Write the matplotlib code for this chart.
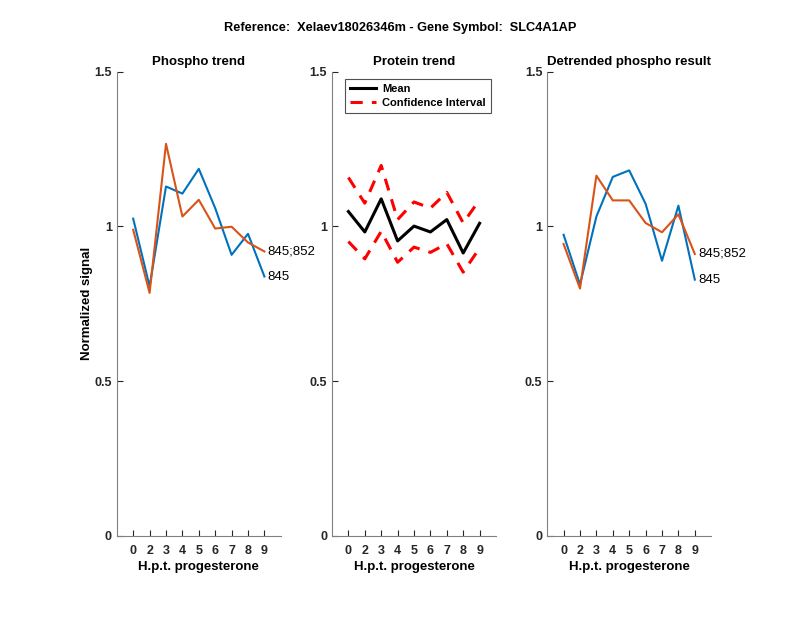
import matplotlib
matplotlib.use("Agg")
import matplotlib.pyplot as plt

# time points (hours post progesterone)
hpt = ["0", "2", "3", "4", "5", "6", "7", "8", "9"]

# phospho trend
phospho_845 = [1.025, 0.806, 1.129, 1.106, 1.186, 1.059, 0.908, 0.976, 0.838]
phospho_845_852 = [0.989, 0.785, 1.267, 1.032, 1.086, 0.993, 0.999, 0.948, 0.919]

# protein trend
protein_mean = [1.048, 0.982, 1.089, 0.953, 1.001, 0.982, 1.022, 0.914, 1.010]
protein_upper = [1.158, 1.075, 1.197, 1.022, 1.079, 1.059, 1.110, 1.011, 1.086]
protein_lower = [0.951, 0.895, 0.984, 0.884, 0.933, 0.916, 0.944, 0.852, 0.930]

# detrended phospho
detr_845 = [0.973, 0.812, 1.032, 1.160, 1.181, 1.073, 0.889, 1.067, 0.828]
detr_845_852 = [0.943, 0.799, 1.164, 1.084, 1.084, 1.011, 0.981, 1.039, 0.911]

blue = (0, 0.447, 0.741)
orange = (0.85, 0.325, 0.098)
axcol = (0.15, 0.15, 0.15)

plt.rcParams['font.family'] = ['Liberation Sans', 'DejaVu Sans']

fig = plt.figure(figsize=(8, 6.18), dpi=100)
lefts = [0.146, 0.415, 0.684]
axes = [fig.add_axes([l, 0.133, 0.205, 0.751]) for l in lefts]
xs = list(range(1, len(hpt) + 1))


def style(ax, title):
    ax.set_xlim(0, 10)
    ax.set_ylim(0, 1.5)
    ax.set_xticks(xs)
    ax.set_xticklabels(hpt, fontweight="bold", fontsize=9)
    ax.set_yticks([0, 0.5, 1, 1.5])
    ax.set_yticklabels(["0", "0.5", "1", "1.5"], fontweight="bold", fontsize=9)
    ax.tick_params(direction="in", colors=axcol, length=4)
    ax.tick_params(axis="x", pad=6.5)
    for s in ["top", "right"]:
        ax.spines[s].set_visible(False)
    for s in ["left", "bottom"]:
        ax.spines[s].set_color((0.5, 0.5, 0.5))
    ax.set_xlabel("H.p.t. progesterone", fontweight="bold", fontsize=9.5, labelpad=3)
    ax.set_title(title, fontweight="bold", fontsize=9.5, pad=5)


ax = axes[0]
ax.plot(xs, phospho_845, color=blue, lw=1.5)
ax.plot(xs, phospho_845_852, color=orange, lw=1.5)
ax.text(9.2, phospho_845[-1], "845", va="center", fontsize=9.5)
ax.text(9.2, phospho_845_852[-1], "845;852", va="center", fontsize=9.5)
style(ax, "Phospho trend")
ax.set_ylabel("Normalized signal", fontweight="bold", fontsize=9.5, labelpad=1)

ax = axes[1]
ax.plot(xs, protein_mean, color="k", lw=2.2, label="Mean")
ax.plot(xs, protein_upper, color="red", lw=2.2, ls=(0, (4, 3)), label="Confidence Interval")
ax.plot(xs, protein_lower, color="red", lw=2.2, ls=(0, (4, 3)))
style(ax, "Protein trend")
leg = ax.legend(loc="upper left", bbox_to_anchor=(0.08, 0.985), borderaxespad=0,
                fancybox=False, edgecolor=axcol, prop={"weight": "bold", "size": 8},
                handlelength=2.3, handletextpad=0.6, borderpad=0.45, labelspacing=0.35)
leg.get_frame().set_linewidth(0.8)

ax = axes[2]
ax.plot(xs, detr_845, color=blue, lw=1.5)
ax.plot(xs, detr_845_852, color=orange, lw=1.5)
ax.text(9.2, detr_845[-1], "845", va="center", fontsize=9.5)
ax.text(9.2, detr_845_852[-1], "845;852", va="center", fontsize=9.5)
style(ax, "Detrended phospho result")

fig.text(0.5, 0.954, "Reference:  Xelaev18026346m - Gene Symbol:  SLC4A1AP",
         ha="center", va="center", fontweight="bold", fontsize=9.2)

fig.savefig("out.png", dpi=100)
